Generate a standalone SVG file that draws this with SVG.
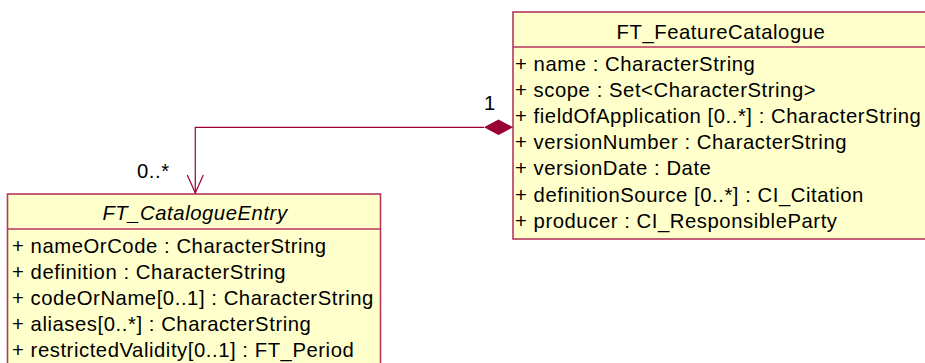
<svg xmlns="http://www.w3.org/2000/svg" width="925" height="363" viewBox="0 0 925 363">
<style>
.box{fill:#ffffcc;stroke:#b5375c;stroke-width:1.6}
.div{stroke:#b5375c;stroke-width:1.6}
text{font-family:"Liberation Sans",Arial,sans-serif;font-size:20.3px;letter-spacing:0.55px;fill:#000}
.title{text-anchor:middle}
.it{font-style:italic}
.conn{fill:none;stroke:#990033;stroke-width:1.2}
</style>
<rect width="925" height="363" fill="#ffffff"/>
<g id="FT_FeatureCatalogue">
<rect class="box" x="513" y="12" width="420" height="227"/>
<line class="div" x1="513" y1="47" x2="925" y2="47"/>
<text class="title" x="721" y="39">FT_FeatureCatalogue</text>
<text x="515" y="70.5">+ name : CharacterString</text>
<text x="515" y="96.7">+ scope : Set&lt;CharacterString&gt;</text>
<text x="515" y="122.9">+ fieldOfApplication [0..*] : CharacterString</text>
<text x="515" y="149.1">+ versionNumber : CharacterString</text>
<text x="515" y="175.3">+ versionDate : Date</text>
<text x="515" y="201.5">+ definitionSource [0..*] : CI_Citation</text>
<text x="515" y="227.7">+ producer : CI_ResponsibleParty</text>
</g>
<g id="FT_CatalogueEntry">
<rect class="box" x="7.5" y="194" width="373" height="180"/>
<line class="div" x1="7.5" y1="229" x2="380.5" y2="229"/>
<text class="title it" x="195" y="220">FT_CatalogueEntry</text>
<text x="12" y="252.5">+ nameOrCode : CharacterString</text>
<text x="12" y="278.7">+ definition : CharacterString</text>
<text x="12" y="304.9">+ codeOrName[0..1] : CharacterString</text>
<text x="12" y="331.1">+ aliases[0..*] : CharacterString</text>
<text x="12" y="357.3">+ restrictedValidity[0..1] : FT_Period</text>
</g>
<g id="connectors">
<polyline class="conn" points="484,127.3 195.3,127.3 195.3,193"/>
<polyline class="conn" points="187.3,175 195.3,193 203.3,175"/>
<polygon points="513,127.3 498.5,119.5 484,127.3 498.5,135" fill="#990033"/>
<text x="490" y="110" style="text-anchor:middle">1</text>
<text x="137" y="178">0..*</text>
</g>
</svg>
